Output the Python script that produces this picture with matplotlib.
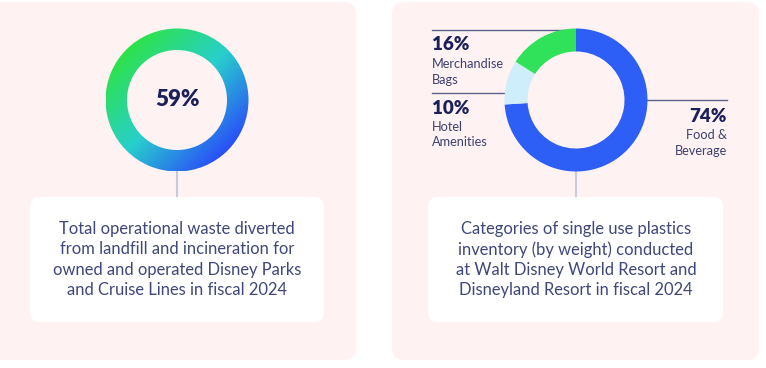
import numpy as np
import matplotlib
matplotlib.use("Agg")
import matplotlib.pyplot as plt
from matplotlib.patches import FancyBboxPatch, Wedge
from matplotlib.colors import LinearSegmentedColormap

plt.rcParams['font.family'] = ['Lato', 'DejaVu Sans']

# ---- data ----
diverted_pct = 59
diverted_caption = ("Total operational waste diverted\nfrom landfill and incineration for\n"
                    "owned and operated Disney Parks\nand Cruise Lines in fiscal 2024")
plastic_categories = ["Food &\nBeverage", "Hotel\nAmenities", "Merchandise\nBags"]
plastic_values = [74, 10, 16]
plastic_caption = ("Categories of single use plastics\ninventory (by weight) conducted\n"
                   "at Walt Disney World Resort and\nDisneyland Resort in fiscal 2024")

# ---- style ----
W, H = 766, 368
panel_col = "#fef3f2"
navy = "#1b1f5c"
label_col = "#3b4172"
cap_col = "#40477a"
lead_col = "#5c6189"
conn_col = "#c9cad8"
seg_colors = ["#2d5ff6", "#cdeefa", "#2fe25a"]

fig = plt.figure(figsize=(W / 100, H / 100), dpi=100)
ax = fig.add_axes([0, 0, 1, 1])
fig.patch.set_facecolor("white")

def Y(p):
    return H - p

def panel(x0, y0, x1, y1, r, color, z=1):
    p = FancyBboxPatch((x0, Y(y1)), x1 - x0, y1 - y0,
                       boxstyle=f"round,pad=0,rounding_size={r}",
                       fc=color, ec="none", zorder=z)
    ax.add_patch(p)

# panels
panel(-20, 2, 356, 360, 12, panel_col)
panel(392, 2, 759, 360, 12, panel_col)
# caption boxes
panel(30, 197, 324, 322, 10, "white", 2)
panel(428, 197, 723, 322, 10, "white", 2)

# ---- left gradient ring ----
lcx, lcy = 177, 100
R_out, R_in = 71.5, 50
ring = Wedge((lcx, Y(lcy)), R_out, 0, 360, width=R_out - R_in, fc="none", ec="none")
ax.add_patch(ring)
n = 300
xs = np.linspace(-1, 1, n)
gx, gy = np.meshgrid(xs, xs)
t = (gx - gy) / (2 * np.sqrt(2)) + 0.5
cmap = LinearSegmentedColormap.from_list(
    "g", [(0, "#2ee24a"), (0.5, "#28cfcc"), (1, "#2a4ff8")])
im = ax.imshow(t, cmap=cmap, vmin=0, vmax=1, origin="lower",
               extent=[lcx - R_out, lcx + R_out, Y(lcy) - R_out, Y(lcy) + R_out],
               zorder=3, interpolation="bilinear")
im.set_clip_path(ring)
ax.text(lcx, Y(lcy), f"{diverted_pct}%", ha="center", va="center",
        fontsize=16, fontweight="heavy", color=navy, zorder=5)
ax.plot([lcx, lcx], [Y(lcy + R_out - 2), Y(198)], color=conn_col, lw=1.5, zorder=1.5)
ax.text(lcx, Y(259.5), diverted_caption, ha="center", va="center",
        fontsize=11.9, color=cap_col, linespacing=1.33, zorder=4)

# ---- right donut ----
rcx, rcy = 576, 100
R2_out, R2_in = 71.5, 48.5
wedges, _ = ax.pie(plastic_values, colors=seg_colors, startangle=90, counterclock=False,
                   center=(rcx, Y(rcy)), radius=R2_out,
                   wedgeprops=dict(width=R2_out - R2_in, edgecolor="none"))
for w in wedges:
    w.set_zorder(3)
ax.plot([rcx, rcx], [Y(rcy + R2_out - 2), Y(198)], color=conn_col, lw=1.5, zorder=1.5)
ax.text(rcx, Y(259.5), plastic_caption, ha="center", va="center",
        fontsize=11.9, color=cap_col, linespacing=1.33, zorder=4)

# leader lines (end inside the ring so they meet its outer edge)
R_mid = (R2_out + R2_in) / 2
def ring_x(y, side):
    dy = y - rcy
    return rcx + side * np.sqrt(R_mid ** 2 - dy ** 2) if abs(dy) < R_mid else rcx

ax.plot([432, rcx], [Y(30), Y(30)], color=lead_col, lw=1, zorder=2)
ax.plot([432, ring_x(93, -1)], [Y(93), Y(93)], color=lead_col, lw=1, zorder=2)
ax.plot([ring_x(100, 1), 727], [Y(100), Y(100)], color=lead_col, lw=1, zorder=2)

# labels
def label(x, y_pct, y_txt, pct, txt, ha):
    ax.text(x, Y(y_pct), f"{pct}%", ha=ha, va="center", fontsize=13.5,
            fontweight="heavy", color=navy, zorder=5)
    ax.text(x, Y(y_txt), txt, ha=ha, va="center", fontsize=9.2, color=label_col,
            linespacing=1.35, zorder=5)

label(432, 45, 72, plastic_values[2], plastic_categories[2], "left")
label(432, 108, 134.5, plastic_values[1], plastic_categories[1], "left")
label(727, 116, 143, plastic_values[0], plastic_categories[0], "right")

ax.set_xlim(0, W)
ax.set_ylim(0, H)
ax.set_aspect("auto")
ax.axis("off")
fig.savefig("out.png", dpi=100, facecolor="white")
